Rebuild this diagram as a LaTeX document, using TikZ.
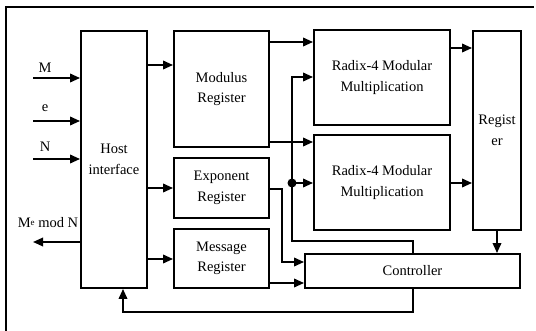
\documentclass[tikz,border=0pt]{standalone}
\usepackage{fontspec}
\setmainfont{Liberation Serif}
\usetikzlibrary{arrows.meta}
\begin{document}
\begin{tikzpicture}[x=1pt,y=-1pt,
  blk/.style={draw, line width=1.9pt, align=center, inner sep=0pt,
    font=\fontsize{14.5}{20.5}\selectfont},
  arr/.style={-{Triangle[length=10pt,width=8.5pt]}, line width=1.9pt},
  lbl/.style={font=\fontsize{14.5}{20}\selectfont, inner sep=0pt}]
\useasboundingbox (0,0) rectangle (536,331);
% frame
\draw[line width=1.2pt] (6,331) -- (6,7) -- (534,7);
% blocks
\node[blk, minimum width=66pt, minimum height=257pt] (host) at (114,159.5) {Host\\interface};
\node[blk, minimum width=95pt, minimum height=116pt] (mod) at (221.5,89) {Modulus\\Register};
\node[blk, minimum width=95pt, minimum height=60pt] (exp) at (221.5,188) {Exponent\\Register};
\node[blk, minimum width=95pt, minimum height=59pt] (msg) at (221.5,258.5) {Message\\Register};
\node[blk, minimum width=136pt, minimum height=95pt] (rad1) at (382,77.5) {Radix-4 Modular\\Multiplication};
\node[blk, minimum width=136pt, minimum height=95pt] (rad2) at (382,182.5) {Radix-4 Modular\\Multiplication};
\node[blk, minimum width=48pt, minimum height=199pt] (reg) at (497,130.5) {Regist\\er};
\node[blk, minimum width=215pt, minimum height=34pt] (ctrl) at (412.5,271) {Controller};
% inputs
\coordinate (inM) at (33,78);
\coordinate (inE) at (33,121);
\coordinate (inN) at (33,159);
\coordinate (outR) at (33,242);
\node[lbl] (lM) at (45,68) {M};
\node[lbl] (lE) at (45,108) {e};
\node[lbl] (lN) at (45,147) {N};
\node[lbl] (lO) at (48,223) {M{\fontsize{9}{9}\selectfont\raisebox{0.6ex}{e}} mod N};
\draw[arr] (inM) -- (host.west |- inM);
\draw[arr] (inE) -- (host.west |- inE);
\draw[arr] (inN) -- (host.west |- inN);
\draw[arr] (host.west |- outR) -- (outR);
% host to registers
\draw[arr] (host.east |- 0,65) -- (mod.west |- 0,65);
\draw[arr] (host.east |- 0,188) -- (exp.west |- 0,188);
\draw[arr] (host.east |- 0,259) -- (msg.west |- 0,259);
% modulus to multipliers
\draw[arr] (mod.east |- 0,42) -- (rad1.west |- 0,42);
\draw[arr] (mod.east |- 0,142) -- (rad2.west |- 0,142);
% multipliers to register
\draw[arr] (rad1.east |- 0,48) -- (reg.west |- 0,48);
\draw[arr] (rad2.east |- 0,183) -- (reg.west |- 0,183);
% register to controller
\draw[arr] (reg.south) -- (reg.south |- ctrl.north);
% controller to multipliers
\coordinate (cx) at (413,241);
\coordinate (vx) at (292,241);
\coordinate (dot) at (292,183);
\draw[arr] (ctrl.north -| cx) -- (cx) -- (vx) -- (292,77) -- (rad1.west |- 0,77);
\draw[arr] (dot) -- (rad2.west |- dot);
\fill (dot) circle (4.5pt);
% exponent, message to controller
\draw[arr] (exp.east |- 0,189) -- (282,189) -- (282,262) -- (ctrl.west |- 0,262);
\draw[arr] (msg.east |- 0,283) -- (ctrl.west |- 0,283);
% feedback
\coordinate (fb) at (413,312);
\coordinate (fh) at (123,312);
\draw[arr] (ctrl.south -| fb) -- (fb) -- (fh) -- (host.south -| fh);
\end{tikzpicture}
\end{document}
